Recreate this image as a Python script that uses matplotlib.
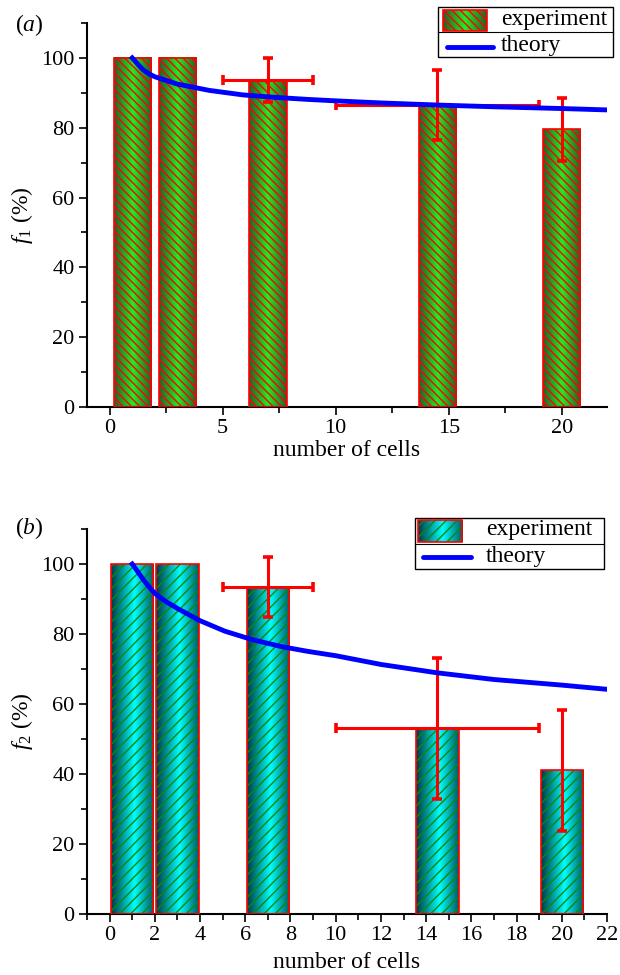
import numpy as np
import matplotlib
matplotlib.use('Agg')
import matplotlib.pyplot as plt
from matplotlib.colors import LinearSegmentedColormap
from matplotlib.patches import Rectangle
from matplotlib.ticker import MultipleLocator

plt.rcParams['font.family'] = ['Liberation Serif', 'DejaVu Serif']
plt.rcParams['mathtext.fontset'] = 'custom'
plt.rcParams['mathtext.rm'] = 'Liberation Serif'
plt.rcParams['mathtext.it'] = 'Liberation Serif:italic'
plt.rcParams['hatch.linewidth'] = 1.0

# values
cells = [1, 3, 7, 14.5, 20]

f1 = [100, 100, 93.7, 86.5, 79.5]
f1_yerr = [0, 0, 6.3, 9.9, 8.9]
f1_xerr = [0, 0, 2, 4.5, 0]

f2 = [100, 100, 93.4, 53.1, 41.1]
f2_yerr = [0, 0, 8.6, 20.1, 17.3]
f2_xerr = [0, 0, 2, 4.5, 0]

n_theory_a = [1, 1.15, 1.3, 1.5, 1.75, 2, 3, 4.4, 5.9, 7.3, 8.8, 10, 12, 14.5, 17, 20, 22]
f_theory_a = [100, 98.9, 97.8, 96.5, 95.4, 94.6, 92.5, 90.7, 89.4, 88.7, 88.1, 87.7, 87.1, 86.5, 86.0, 85.5, 85.1]

n_theory_b = [1, 1.2, 1.45, 1.7, 2, 2.5, 3, 4, 5.1, 6.3, 7.6, 8.8, 10, 12, 14.5, 17, 20, 22]
f_theory_b = [100, 98.2, 95.9, 93.8, 91.6, 89.2, 87.3, 83.8, 80.8, 78.4, 76.4, 75.0, 73.8, 71.3, 68.9, 67.0, 65.4, 64.2]

W, H = 620, 975
green_cmap = LinearSegmentedColormap.from_list('gr', [(0, '#2a5a2a'), (0.5, '#22ee22'), (1, '#2a5a2a')])
cyan_cmap = LinearSegmentedColormap.from_list('cy', [(0, '#003845'), (0.55, '#00ffff'), (1, '#005a66')])
grad = np.linspace(0, 1, 200).reshape(1, -1)


def grad_bars(ax, x, h, width, cmap, hatch, hatch_color):
    for xi, hi in zip(x, h):
        ax.imshow(grad, cmap=cmap, extent=[xi - width / 2, xi + width / 2, 0, hi],
                  aspect='auto', zorder=2, interpolation='bilinear')
    ax.bar(x, h, width, color='none', edgecolor=hatch_color, hatch=hatch, linewidth=0, zorder=3)
    ax.bar(x, h, width, color='none', edgecolor='red', linewidth=1.2, zorder=4)


def error_bars(ax, x, y, yerr, xerr):
    x, y, yerr, xerr = map(np.asarray, (x, y, yerr, xerr))
    kw = dict(fmt='none', ecolor='red', elinewidth=2.2, capsize=3.6, capthick=2.6, zorder=5)
    m = yerr > 0
    ax.errorbar(x[m], y[m], yerr=yerr[m], **kw)
    m = xerr > 0
    ax.errorbar(x[m], y[m], xerr=xerr[m], **kw)


def style_axes(ax, xmajor, xminor, ylabel, xlabel_y):
    ax.set_xlim(-1, 22)
    ax.set_ylim(0, 110)
    for s in ['top', 'right']:
        ax.spines[s].set_visible(False)
    for s in ['left', 'bottom']:
        ax.spines[s].set_linewidth(1.5)
    ax.xaxis.set_major_locator(MultipleLocator(xmajor))
    ax.xaxis.set_minor_locator(MultipleLocator(xminor))
    ax.yaxis.set_minor_locator(MultipleLocator(10))
    ax.set_yticks([0, 20, 40, 60, 80, 100])
    ax.tick_params(which='major', direction='out', length=6, width=1.2, labelsize=16, pad=3)
    ax.tick_params(which='minor', direction='out', length=4, width=1.2)
    ax.set_xlabel('number of cells', fontsize=17)
    ax.set_ylabel(ylabel, fontsize=17)
    ax.xaxis.set_label_coords(0.5, xlabel_y)
    ax.yaxis.set_label_coords(-0.1, 0.5)


def legend_box(fig, l, t, r, b, cmap, hatch, hatch_color, patch_x, patch_y, text_x, text_y, line_x, line_y):
    lax = fig.add_axes([l / W, 1 - b / H, (r - l) / W, (b - t) / H])
    lax.axis('off')
    lax.add_patch(Rectangle((0, 0), 1, 1, fill=False, edgecolor='black', lw=1, clip_on=False))
    lax.plot([0, 1], [0.5, 0.5], color='black', lw=0.8, clip_on=False)
    lax.imshow(grad, cmap=cmap, extent=[patch_x[0], patch_x[1], patch_y[0], patch_y[1]],
               aspect='auto', interpolation='bilinear', zorder=2)
    lax.add_patch(Rectangle((patch_x[0], patch_y[0]), patch_x[1] - patch_x[0], patch_y[1] - patch_y[0],
                            facecolor='none', edgecolor=hatch_color, hatch=hatch, lw=0, zorder=3))
    lax.add_patch(Rectangle((patch_x[0], patch_y[0]), patch_x[1] - patch_x[0], patch_y[1] - patch_y[0],
                            facecolor='none', edgecolor='red', lw=1.2, zorder=4))
    lax.plot(line_x, [line_y, line_y], color='blue', lw=3.5, solid_capstyle='round')
    lax.text(text_x, text_y[0], 'experiment', fontsize=17, va='center', ha='left')
    lax.text(text_x, text_y[1], 'theory', fontsize=17, va='center', ha='left')
    lax.set_xlim(0, 1)
    lax.set_ylim(0, 1)


fig = plt.figure(figsize=(6.2, 9.75), dpi=100)

# panel (a)
ax1 = fig.add_axes([87 / W, 1 - 407 / H, 520 / W, 384 / H])
grad_bars(ax1, cells, f1, 1.65, green_cmap, '\\\\\\\\', 'red')
error_bars(ax1, cells, f1, f1_yerr, f1_xerr)
ax1.plot(n_theory_a, f_theory_a, color='blue', lw=3.5, zorder=6)
style_axes(ax1, 5, 2.5, r'$f_1$ (%)', -0.085)

# panel (b)
ax2 = fig.add_axes([87 / W, 1 - 914 / H, 520 / W, 385 / H])
grad_bars(ax2, cells, f2, 1.88, cyan_cmap, '///', '#0a8a0a')
error_bars(ax2, cells, f2, f2_yerr, f2_xerr)
ax2.plot(n_theory_b, f_theory_b, color='blue', lw=3.5, zorder=6)
style_axes(ax2, 2, 1, r'$f_2$ (%)', -0.1)

fig.text(15 / W, 1 - 25 / H, r'($a$)', fontsize=17, va='center', ha='left')
fig.text(15 / W, 1 - 528 / H, r'($b$)', fontsize=17, va='center', ha='left')

legend_box(fig, 438, 7, 613, 57, green_cmap, '\\\\\\\\', 'red',
           (0.03, 0.28), (0.52, 0.94), 0.36, (0.74, 0.24), (0.05, 0.314), 0.21)
legend_box(fig, 415, 518, 604, 569, cyan_cmap, '///', '#0a8a0a',
           (0.017, 0.25), (0.53, 0.96), 0.376, (0.78, 0.25), (0.042, 0.294), 0.23)

fig.savefig('out.png', dpi=100)
